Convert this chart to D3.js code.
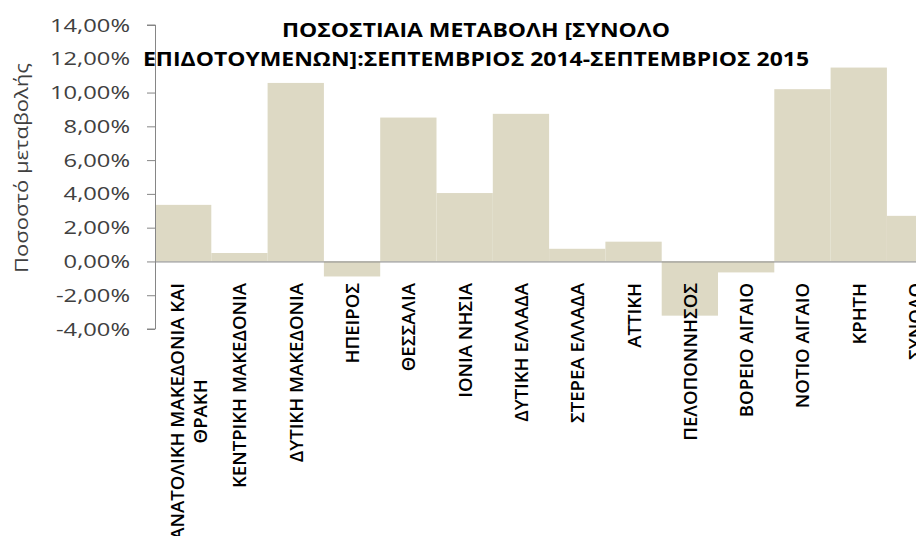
<!DOCTYPE html>
<html>
<head>
<meta charset="utf-8">
<script src="https://cdn.jsdelivr.net/npm/d3@7"></script>
<style>
  html, body { margin: 0; padding: 0; background: #fff; overflow: hidden; }
  svg { display: block; }
</style>
</head>
<body>
<svg id="chart" width="916" height="536"></svg>
<script>
const categories = [
  ["ΑΝΑΤΟΛΙΚΗ ΜΑΚΕΔΟΝΙΑ ΚΑΙ", "ΘΡΑΚΗ"],
  ["ΚΕΝΤΡΙΚΗ ΜΑΚΕΔΟΝΙΑ"],
  ["ΔΥΤΙΚΗ ΜΑΚΕΔΟΝΙΑ"],
  ["ΗΠΕΙΡΟΣ"],
  ["ΘΕΣΣΑΛΙΑ"],
  ["ΙΟΝΙΑ ΝΗΣΙΑ"],
  ["ΔΥΤΙΚΗ ΕΛΛΑΔΑ"],
  ["ΣΤΕΡΕΑ ΕΛΛΑΔΑ"],
  ["ΑΤΤΙΚΗ"],
  ["ΠΕΛΟΠΟΝΝΗΣΟΣ"],
  ["ΒΟΡΕΙΟ ΑΙΓΑΙΟ"],
  ["ΝΟΤΙΟ ΑΙΓΑΙΟ"],
  ["ΚΡΗΤΗ"],
  ["ΣΥΝΟΛΟ"]
];
const values = [3.35, 0.50, 10.57, -0.89, 8.52, 4.05, 8.74, 0.75, 1.17, -3.21, -0.65, 10.20, 11.48, 2.70];
const yTicks = [-4, -2, 0, 2, 4, 6, 8, 10, 12, 14];
const titleLines = ["ΠΟΣΟΣΤΙΑΙΑ ΜΕΤΑΒΟΛΗ [ΣΥΝΟΛΟ", "ΕΠΙΔΟΤΟΥΜΕΝΩΝ]:ΣΕΠΤΕΜΒΡΙΟΣ 2014-ΣΕΠΤΕΜΒΡΙΟΣ 2015"];
const yTitle = "Ποσοστό μεταβολής";

const FONT = "'Open Sans', sans-serif";
const svg = d3.select("#chart");
const plotLeft = 155, plotTop = 25, plotBottom = 329;
const bandW = 56.3;
const x = d3.scaleBand()
  .domain(d3.range(categories.length))
  .range([plotLeft, plotLeft + bandW * categories.length])
  .padding(0);
const y = d3.scaleLinear().domain([-4, 14]).range([plotBottom, plotTop]);

const fmt = v => v.toFixed(2).replace(".", ",") + "%";

// measure natural width of a string in a given style
function measure(str, size, weight) {
  const t = svg.append("text").attr("font-family", FONT).attr("font-size", size)
    .attr("font-weight", weight).text(str);
  const w = t.node().getComputedTextLength();
  t.remove();
  return w;
}
// widen glyphs to mimic the reference's wide typeface
function stretch(sel, factor) {
  sel.each(function () {
    const w = this.getComputedTextLength();
    d3.select(this).attr("textLength", w * factor).attr("lengthAdjust", "spacingAndGlyphs");
  });
}

// bars
svg.append("g").selectAll("rect")
  .data(values)
  .join("rect")
  .attr("x", (d, i) => x(i))
  .attr("width", x.bandwidth())
  .attr("y", d => y(Math.max(0, d)))
  .attr("height", d => Math.abs(y(d) - y(0)))
  .attr("fill", "#DDD9C4");

// y axis
const tickSize = 19;
const tickFactor = 80 / measure("14,00%", tickSize, "normal");
const yAxis = d3.axisLeft(y).tickValues(yTicks).tickFormat(fmt).tickSize(8).tickPadding(17);
const gy = svg.append("g").attr("transform", `translate(${plotLeft},0)`).call(yAxis);
gy.select(".domain").attr("stroke", "#868686").attr("d", `M-8,${y(14)}H0.5V${y(-4)}H-8`);
gy.selectAll(".tick line").attr("stroke", "#868686");
gy.selectAll(".tick text")
  .attr("font-family", FONT)
  .attr("font-size", tickSize)
  .attr("fill", "#404040")
  .call(stretch, tickFactor);

// zero line
svg.append("line")
  .attr("x1", plotLeft).attr("x2", 916)
  .attr("y1", y(0) + 0.5).attr("y2", y(0) + 0.5)
  .attr("stroke", "#868686").attr("stroke-width", 1);

// category labels
const labelTop = 283;
const lineGap = 23;
const labelSize = 18, labelWeight = 600;
const labelFactor = 205 / measure("ΚΕΝΤΡΙΚΗ ΜΑΚΕΔΟΝΙΑ", labelSize, labelWeight);
categories.forEach((lines, i) => {
  const cx = x(i) + x.bandwidth() / 2 + (lines.length > 1 ? 5 : 0);
  const n = lines.length;
  const g = svg.append("g").attr("transform", `translate(${cx},${labelTop}) rotate(-90)`);
  const texts = lines.map((t, k) => g.append("text")
    .attr("x", 0)
    .attr("y", (k - (n - 1) / 2) * lineGap)
    .attr("dominant-baseline", "central")
    .attr("text-anchor", "middle")
    .attr("font-family", FONT)
    .attr("font-size", labelSize)
    .attr("font-weight", labelWeight)
    .attr("fill", "#000")
    .text(t));
  const widths = texts.map(t => t.node().getComputedTextLength() * labelFactor);
  const maxW = d3.max(widths);
  texts.forEach((t, k) => t.attr("x", -maxW / 2)
    .attr("textLength", widths[k]).attr("lengthAdjust", "spacingAndGlyphs"));
});

// y title
const yTitleFactor = 210 / measure(yTitle, 19, "normal");
svg.append("text")
  .attr("transform", `translate(21,168) rotate(-90)`)
  .attr("text-anchor", "middle")
  .attr("dominant-baseline", "central")
  .attr("font-family", FONT)
  .attr("font-size", 19)
  .attr("fill", "#404040")
  .text(yTitle)
  .call(stretch, yTitleFactor);

// title
const titleFactor = 666 / measure(titleLines[1], 19, "bold");
svg.append("g").selectAll("text")
  .data(titleLines)
  .join("text")
  .attr("x", 476)
  .attr("y", (d, i) => 30 + i * 29)
  .attr("text-anchor", "middle")
  .attr("dominant-baseline", "central")
  .attr("font-family", FONT)
  .attr("font-weight", "bold")
  .attr("font-size", 19)
  .attr("fill", "#000")
  .text(d => d)
  .call(stretch, titleFactor);
</script>
</body>
</html>
